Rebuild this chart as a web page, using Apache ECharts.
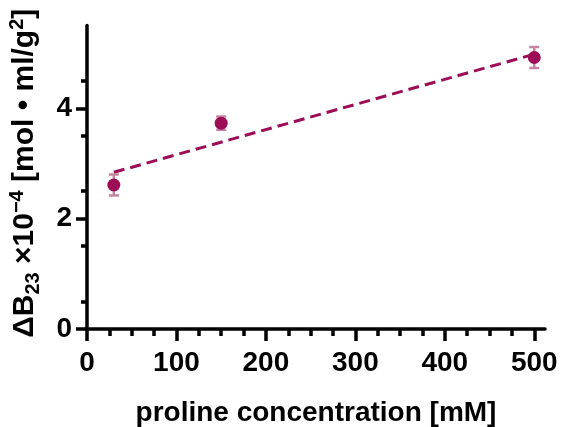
<!DOCTYPE html>
<html>
<head>
<meta charset="utf-8">
<script src="https://cdn.jsdelivr.net/npm/echarts@6/dist/echarts.min.js"></script>
<style>html,body{margin:0;padding:0;background:#fff;}#c{width:561px;height:427px;}</style>
</head>
<body>
<div id="c"></div>
<script>
var concentrations = [30, 150, 500];
var deltaB = [2.61, 3.73, 4.92];
var errors = [0.19, 0.12, 0.19];
var fitLine = [[30, 2.84], [500, 4.98]];
var xTicks = [0, 100, 200, 300, 400, 500];
var yTicks = [0, 2, 4];

var pointColor = '#9C0D55';
var errColor = '#C684A3';
var font = 'Liberation Sans';

var points = concentrations.map(function (x, i) { return [x, deltaB[i]]; });
var errData = concentrations.map(function (x, i) { return [x, deltaB[i] - errors[i], deltaB[i] + errors[i]]; });

var chart = echarts.init(document.getElementById('c'));
chart.setOption({
  animation: false,
  grid: { left: 87, right: 16, top: 25.5, bottom: 98, containLabel: false, outerBoundsMode: 'none' },
  xAxis: {
    type: 'value', min: 0, max: 512,
    name: 'proline concentration [mM]', nameLocation: 'middle', nameGap: 70,
    nameTextStyle: { fontFamily: font, fontWeight: 'bold', fontSize: 28, color: '#000' },
    axisLine: { show: true, onZero: false, lineStyle: { color: '#000', width: 3.5 } },
    axisTick: { show: true, customValues: xTicks, length: 12, lineStyle: { color: '#000', width: 3.5 } },
    minorTick: { show: true, splitNumber: 4, length: 7, lineStyle: { color: '#000', width: 3.5 } },
    axisLabel: { customValues: xTicks, margin: 20, fontFamily: font, fontWeight: 'bold', fontSize: 28, color: '#000' },
    splitLine: { show: false }
  },
  yAxis: {
    type: 'value', min: 0, max: 5.5,
    name: '{m|ΔB}{sub|23}{m| ×10}{sup|−4}{m| [mol • ml/g}{sup|2}{m|]}',
    nameLocation: 'middle', nameRotate: 90, nameGap: 44,
    nameTextStyle: {
      fontFamily: font, fontWeight: 'bold', color: '#000', padding: [0, 0, 0, 8],
      rich: {
        m: { fontFamily: font, fontWeight: 'bold', fontSize: 30, lineHeight: 36, color: '#000' },
        sub: { fontFamily: font, fontWeight: 'bold', fontSize: 20, lineHeight: 20, verticalAlign: 'bottom', color: '#000' },
        sup: { fontFamily: font, fontWeight: 'bold', fontSize: 20, lineHeight: 20, verticalAlign: 'top', color: '#000' }
      }
    },
    axisLine: { show: true, onZero: false, lineStyle: { color: '#000', width: 3.5 } },
    axisTick: { show: true, customValues: yTicks, length: 11, lineStyle: { color: '#000', width: 3.5 } },
    minorTick: { show: true, splitNumber: 2, length: 6, lineStyle: { color: '#000', width: 3.5 } },
    axisLabel: { customValues: yTicks, margin: 15, fontFamily: font, fontWeight: 'bold', fontSize: 28, color: '#000' },
    splitLine: { show: false }
  },
  series: [
    {
      type: 'line', data: fitLine, symbol: 'none', z: 2,
      lineStyle: { color: pointColor, width: 3, type: [11, 6] }
    },
    {
      type: 'custom', z: 3,
      data: errData,
      renderItem: function (params, api) {
        var x = api.value(0);
        var lo = api.coord([x, api.value(1)]);
        var hi = api.coord([x, api.value(2)]);
        var hw = 5;
        var st = { stroke: errColor, lineWidth: 2.5 };
        return {
          type: 'group',
          children: [
            { type: 'line', shape: { x1: lo[0], y1: lo[1], x2: hi[0], y2: hi[1] }, style: st },
            { type: 'line', shape: { x1: lo[0] - hw, y1: lo[1], x2: lo[0] + hw, y2: lo[1] }, style: st },
            { type: 'line', shape: { x1: hi[0] - hw, y1: hi[1], x2: hi[0] + hw, y2: hi[1] }, style: st }
          ]
        };
      }
    },
    {
      type: 'scatter', data: points, symbol: 'circle', symbolSize: 13, z: 4,
      itemStyle: { color: pointColor, opacity: 1 }
    }
  ]
});
</script>
</body>
</html>
